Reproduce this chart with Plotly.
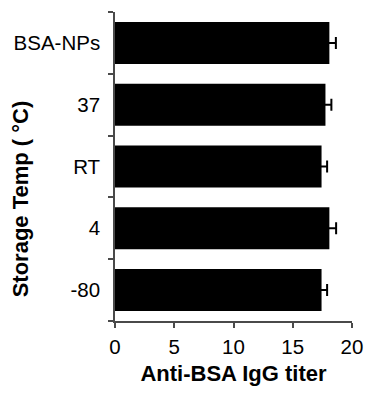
import plotly.graph_objects as go

# Storage conditions (bottom to top) and the resulting anti-BSA IgG titers
categories = ["-80", "4", "RT", "37", "BSA-NPs"]
titers = [17.43, 18.09, 17.43, 17.76, 18.09]
errors = [0.47, 0.57, 0.47, 0.50, 0.55]

x_ticks = [0, 5, 10, 15, 20]

FONT = "Liberation Sans, Arial, sans-serif"
AXIS_COLOR = "#4a4a4a"

fig = go.Figure(
    go.Bar(
        x=titers,
        y=categories,
        orientation="h",
        marker=dict(color="black", line=dict(width=0)),
        error_x=dict(type="data", array=errors, visible=True,
                     color="black", thickness=2, width=6),
    )
)

fig.update_layout(
    width=375,
    height=394,
    margin=dict(l=115, r=16, t=12, b=70),
    plot_bgcolor="white",
    paper_bgcolor="white",
    bargap=0.32,
    showlegend=False,
    font=dict(family=FONT, color="black"),
)

fig.update_xaxes(
    range=[0, 20],
    tickvals=x_ticks,
    ticktext=[str(v) for v in x_ticks],
    ticks="outside",
    ticklen=5,
    tickwidth=1.5,
    tickcolor=AXIS_COLOR,
    showline=True,
    linecolor=AXIS_COLOR,
    linewidth=1.5,
    showgrid=False,
    zeroline=False,
    tickfont=dict(size=20.5),
    ticklabelstandoff=2,
    title=dict(text="<b>Anti-BSA IgG titer</b>", font=dict(size=22), standoff=8),
)

fig.update_yaxes(
    type="category",
    categoryorder="array",
    categoryarray=categories,
    range=[-0.5, len(categories) - 0.5],
    tickson="boundaries",
    ticks="outside",
    ticklen=5,
    tickwidth=1.5,
    tickcolor=AXIS_COLOR,
    showline=True,
    linecolor=AXIS_COLOR,
    linewidth=1.5,
    showgrid=False,
    zeroline=False,
    tickfont=dict(size=20.5),
    ticklabelstandoff=9,
)

fig.add_annotation(
    text="<b>Storage Temp ( °C)</b>",
    xref="paper", yref="paper",
    x=-0.395, y=0.395,
    xanchor="center", yanchor="middle",
    textangle=-90,
    showarrow=False,
    font=dict(size=22, family=FONT, color="black"),
)

fig.write_html("out.html")
